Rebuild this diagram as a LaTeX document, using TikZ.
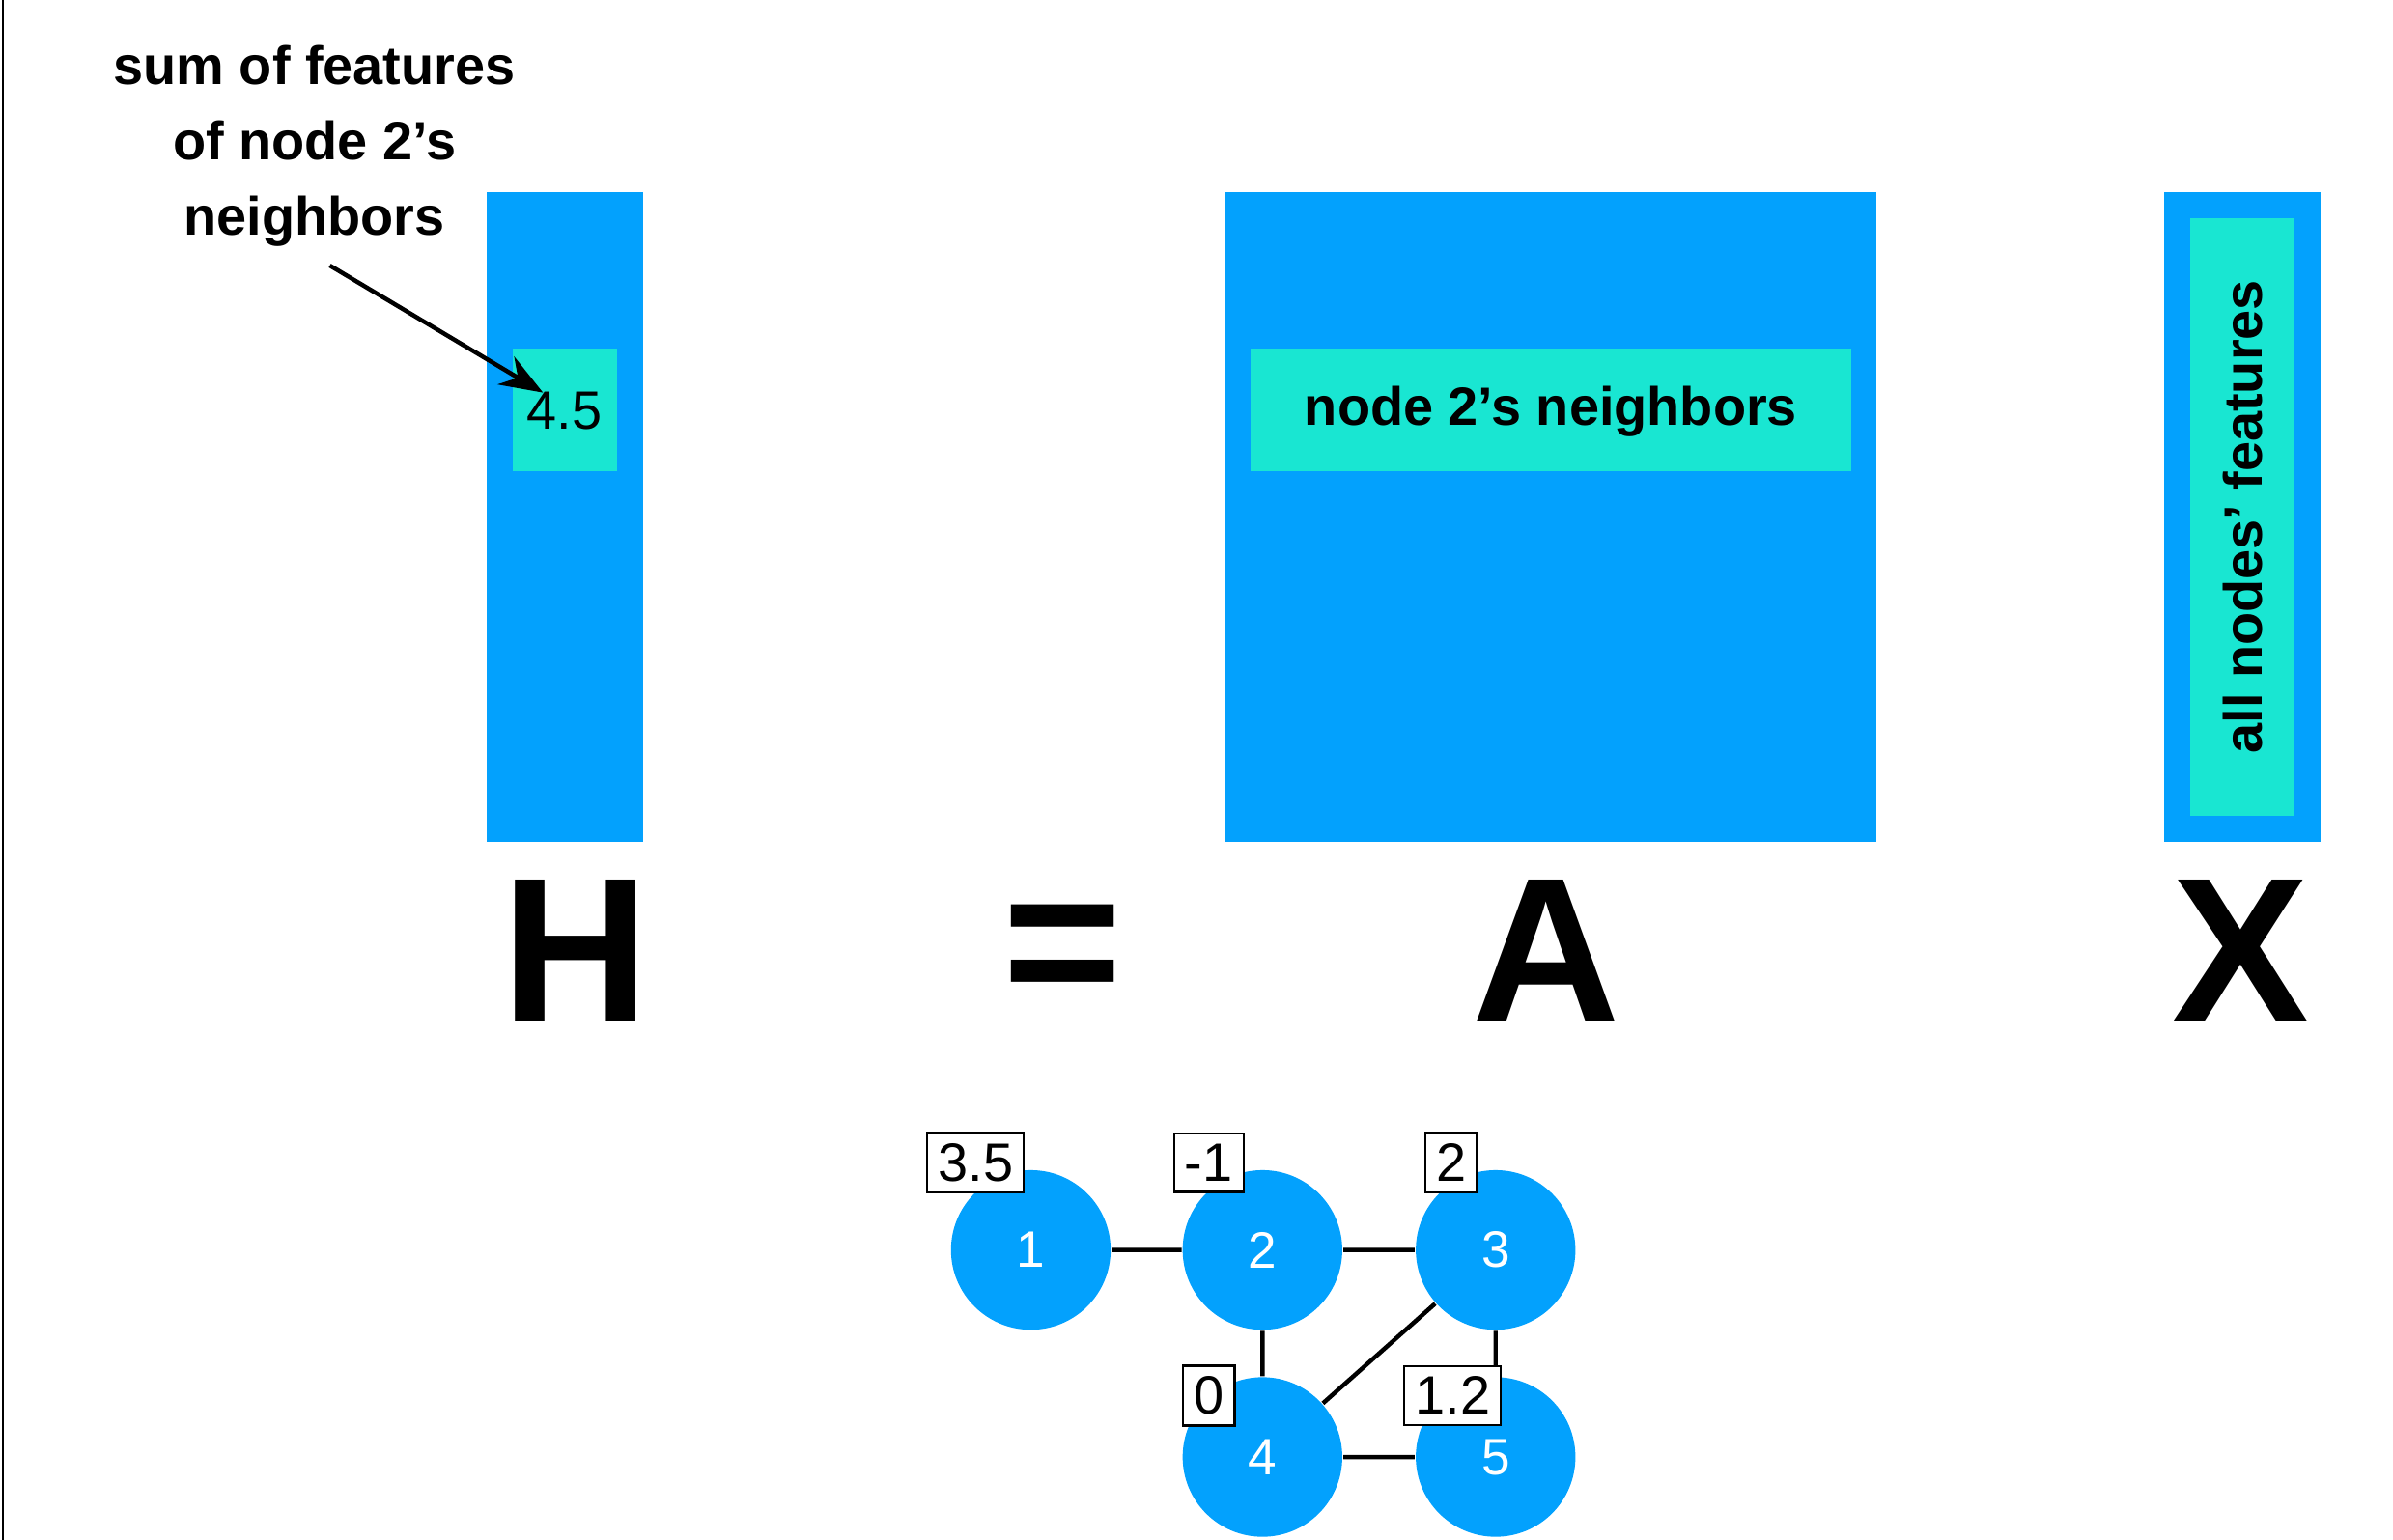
\documentclass[tikz,border=0pt]{standalone}
\usepackage{fontspec}
\setmainfont{Liberation Sans}
\usetikzlibrary{arrows.meta}
\definecolor{matblue}{HTML}{03A1FD}
\definecolor{rowteal}{HTML}{19E6D2}
\begin{document}
\begin{tikzpicture}[x=0.01cm,y=-0.01cm,
    matrix box/.style={fill=matblue,draw=none},
    row box/.style={fill=rowteal,draw=none},
    big letter/.style={font=\fontsize{38}{40}\selectfont\bfseries},
    gnode/.style={circle,fill=matblue,minimum size=1.04cm,inner sep=0,text=white,font=\fontsize{9.5}{11}\selectfont},
    value/.style={draw,fill=white,inner sep=2pt,font=\fontsize{10}{12}\selectfont}]
    \useasboundingbox (0,0) rectangle (1560,1004);
    \draw (2,0) -- (2,1004);

    % matrices
    \fill[matrix box] (317,125) rectangle (419,549);
    \fill[row box] (334,227) rectangle (402,307);
    \node[font=\fontsize{10}{12}\selectfont] (hval) at (368,268) {4.5};

    \fill[matrix box] (799,125) rectangle (1223,549);
    \fill[row box] (815,227) rectangle (1207,307);
    \node[font=\fontsize{10}{12}\selectfont\bfseries] (arow) at (1011,268) {node 2’s neighbors};

    \fill[matrix box] (1411,125) rectangle (1513,549);
    \fill[row box] (1428,142) rectangle (1496,532);
    \node[rotate=90,font=\fontsize{10}{12}\selectfont\bfseries] (xcol) at (1462,337) {all nodes’ features};

    \node[big letter] (H) at (375,620) {H};
    \node[big letter] (eq) at (693,625) {=};
    \node[big letter] (A) at (1008,620) {A};
    \node[big letter] (X) at (1461,620) {X};

    % annotation
    \node[align=center,font=\fontsize{10}{14}\selectfont\bfseries] (note) at (205,95)
        {sum of features\\of node 2’s\\neighbors};
    \coordinate (tip) at (354,256);
    \draw[thick,-{Stealth[length=8pt]}] (note.south) ++(10,0) -- (tip);

    % graph
    \node[gnode] (n1) at (672,815) {1};
    \node[gnode] (n2) at (823,815) {2};
    \node[gnode] (n3) at (975,815) {3};
    \node[gnode] (n4) at (823,950) {4};
    \node[gnode] (n5) at (975,950) {5};
    \draw[thick] (n1) -- (n2) (n2) -- (n3) (n2) -- (n4)
        (n3) -- (n4) (n3) -- (n5) (n4) -- (n5);
    \node[value] (v1) at (636,758) {3.5};
    \node[value] (v2) at (788,758) {-1};
    \node[value] (v3) at (946,758) {2};
    \node[value] (v4) at (788,910) {0};
    \node[value] (v5) at (947,910) {1.2};
\end{tikzpicture}
\end{document}
